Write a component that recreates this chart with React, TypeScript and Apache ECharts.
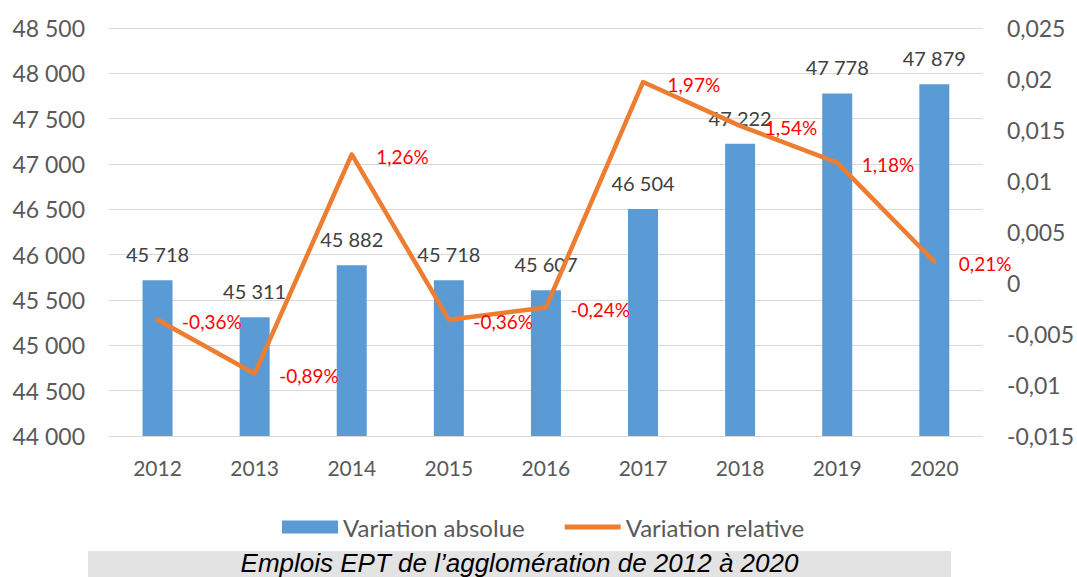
import React, { useEffect, useRef } from "react";
import * as echarts from "echarts";

const years = ["2012", "2013", "2014", "2015", "2016", "2017", "2018", "2019", "2020"];
const absoluteValues = [45718, 45311, 45882, 45718, 45607, 46504, 47222, 47778, 47879];
const relativeValues = [-0.0036, -0.0089, 0.0126, -0.0036, -0.0024, 0.0197, 0.0154, 0.0118, 0.0021];
const seriesNames = ["Variation absolue", "Variation relative"];
const caption = "Emplois EPT de l’agglomération de 2012 à 2020";

const FONT = "Lato, 'Open Sans', sans-serif";

const fmtThousands = (v: number) =>
  Math.round(v).toString().replace(/\B(?=(\d{3})+(?!\d))/g, " ");
const fmtDecimal = (v: number) => parseFloat(v.toFixed(4)).toString().replace(".", ",");
const fmtPct = (v: number) => (v * 100).toFixed(2).replace(".", ",") + "%";

export default function App() {
  const ref = useRef<HTMLDivElement>(null);

  useEffect(() => {
    document.body.style.margin = "0";
    if (!ref.current) return;
    const chart = echarts.init(ref.current, undefined, { renderer: "svg" });
    chart.setOption({
      animation: false,
      backgroundColor: "#ffffff",
      grid: { left: 109, right: 93, top: 28, bottom: 141, containLabel: false },
      legend: {
        left: 282,
        top: 515,
        padding: 0,
        itemWidth: 56,
        itemHeight: 13,
        itemGap: 40,
        textStyle: { color: "#595959", fontSize: 24, fontFamily: FONT },
        data: [
          { name: seriesNames[0], icon: "rect" },
          { name: seriesNames[1], icon: "path://M0,0 L56,0 L56,5 L0,5 Z" },
        ],
      },
      xAxis: {
        type: "category",
        data: years,
        axisLine: { show: false },
        axisTick: { show: false },
        axisLabel: { color: "#595959", fontSize: 21, fontFamily: FONT, margin: 21 },
      },
      yAxis: [
        {
          type: "value",
          min: 44000,
          max: 48500,
          interval: 500,
          axisLine: { show: false },
          axisTick: { show: false },
          splitLine: { show: true, lineStyle: { color: "#d9d9d9", width: 1 } },
          axisLabel: {
            color: "#595959",
            fontSize: 23,
            fontFamily: FONT,
            margin: 24,
            formatter: fmtThousands,
          },
        },
        {
          type: "value",
          min: -0.015,
          max: 0.025,
          interval: 0.005,
          position: "right",
          axisLine: { show: false },
          axisTick: { show: false },
          splitLine: { show: false },
          axisLabel: {
            color: "#595959",
            fontSize: 23,
            fontFamily: FONT,
            margin: 24,
            formatter: fmtDecimal,
          },
        },
      ],
      series: [
        {
          name: seriesNames[0],
          type: "bar",
          yAxisIndex: 0,
          data: absoluteValues,
          barWidth: 30,
          itemStyle: { color: "#5b9bd5" },
          label: {
            show: true,
            position: "top",
            distance: 16,
            color: "#404040",
            fontSize: 20,
            fontFamily: FONT,
            formatter: (p: any) => fmtThousands(p.value),
          },
          z: 2,
        },
        {
          name: seriesNames[1],
          type: "line",
          yAxisIndex: 1,
          data: relativeValues,
          symbol: "circle",
          symbolSize: 1,
          showSymbol: true,
          itemStyle: { color: "#ed7d31" },
          lineStyle: { color: "#ed7d31", width: 4.5, join: "round", cap: "round" },
          label: {
            show: true,
            position: "right",
            distance: 24,
            offset: [0, 2],
            color: "#ff0000",
            fontSize: 19,
            fontFamily: FONT,
            formatter: (p: any) => fmtPct(p.value),
          },
          z: 5,
        },
      ],
      graphic: [
        {
          type: "rect",
          left: 88,
          top: 551,
          shape: { width: 863, height: 30 },
          style: { fill: "#e3e3e3" },
          z: -1,
        },
        {
          type: "text",
          x: 519.5,
          y: 563,
          style: {
            text: caption,
            fill: "#000000",
            font: "italic 26px 'Liberation Sans', Arial, sans-serif",
            align: "center",
            verticalAlign: "middle",
          },
        },
      ],
    });
    return () => chart.dispose();
  }, []);

  return <div ref={ref} style={{ width: 1077, height: 577 }} />;
}
